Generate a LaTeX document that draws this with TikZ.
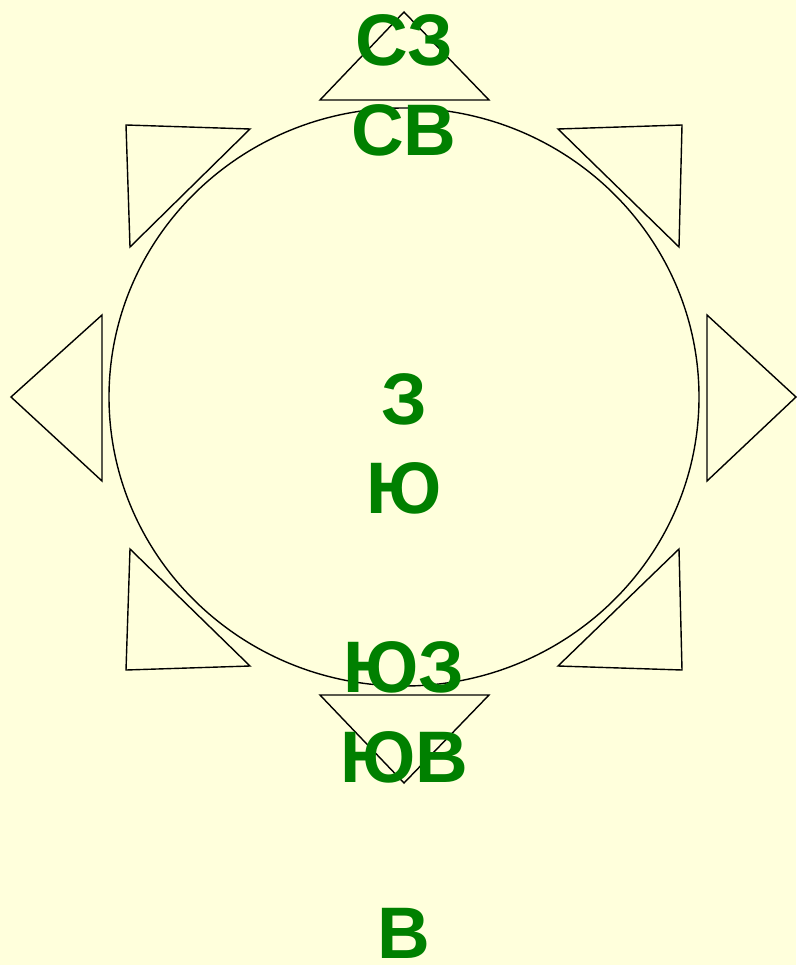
\documentclass[tikz,border=0pt]{standalone}
\usepackage{fontspec}
\setmainfont{Liberation Sans}
\definecolor{bgyellow}{HTML}{FFFFDC}
\definecolor{lblgreen}{HTML}{008000}
\begin{document}
\begin{tikzpicture}[x=1pt,y=-1pt,
  outl/.style={draw=black,line width=1.4pt,line join=miter},
  lbl/.style={text=lblgreen,font=\fontsize{73}{73}\selectfont\bfseries,anchor=base,inner sep=0pt}]
\fill[bgyellow] (0,0) rectangle (796,965);
\useasboundingbox (0,0) rectangle (796,965);
% circle
\draw[outl] (404,397) ellipse [x radius=295, y radius=289];
% triangles
\draw[outl] (320,100) -- (489,100) -- (404,12) -- cycle;
\draw[outl] (320,695) -- (489,695) -- (404,783) -- cycle;
\draw[outl] (102,315) -- (102,481) -- (11,397) -- cycle;
\draw[outl] (707,315) -- (707,481) -- (796,397) -- cycle;
\draw[outl] (126,125) -- (250,129) -- (130,247) -- cycle;
\draw[outl] (682,125) -- (558,129) -- (679,247) -- cycle;
\draw[outl] (130,549) -- (250,666) -- (126,670) -- cycle;
\draw[outl] (679,549) -- (558,666) -- (682,670) -- cycle;
% labels
\node[lbl] (nw) at (404,66) {СЗ};
\node[lbl] (ne) at (404,155.5) {СВ};
\node[lbl] (w) at (404,424) {З};
\node[lbl] (s) at (404,513.5) {Ю};
\node[lbl] (sw) at (404,692.5) {ЮЗ};
\node[lbl] (se) at (404,782) {ЮВ};
\node[lbl] (e) at (404,958) {В};
\end{tikzpicture}
\end{document}
